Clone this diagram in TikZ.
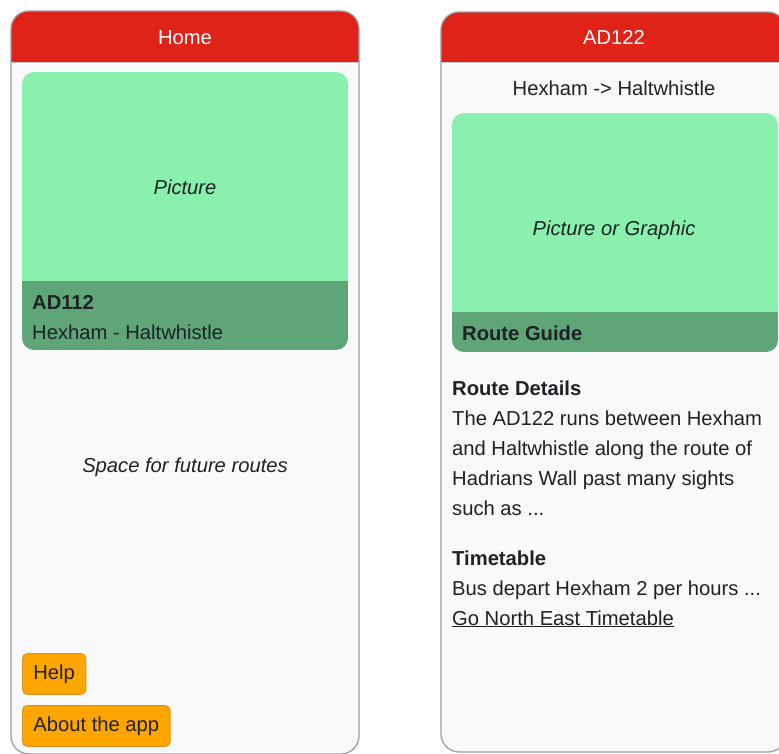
\documentclass[tikz,border=0pt]{standalone}
\usepackage{fontspec}
\setmainfont{Liberation Sans}
\usepackage{xcolor}
\usepackage{tikz}
\usetikzlibrary{positioning,calc}

\definecolor{headred}{HTML}{DF2318}
\definecolor{screenbg}{HTML}{F8F9FA}
\definecolor{framegray}{HTML}{9C9EA5}
\definecolor{piclight}{HTML}{8AF0AD}
\definecolor{picdark}{HTML}{5FA577}
\definecolor{btnorange}{HTML}{FFA500}
\definecolor{btnedge}{HTML}{D98E1A}
\definecolor{inktext}{HTML}{1E2125}

\tikzset{
  txt/.style={anchor=base west, inner sep=0pt, text=inktext},
  ctxt/.style={anchor=base, inner sep=0pt, text=inktext},
  htxt/.style={anchor=base, inner sep=0pt, text=white},
  btn/.style={draw=btnedge, fill=btnorange, rounded corners=5pt, line width=0.8pt,
    anchor=west, minimum height=41pt, inner xsep=11pt, text=inktext},
}

\begin{document}
\begin{tikzpicture}[x=1pt,y=-1pt,font=\fontsize{20.2}{24}\selectfont]
        \useasboundingbox (0,0) rectangle (779,754);
        \clip (0,0) rectangle (779,754);

        % Left screen (Home)
        \fill[screenbg, rounded corners=18pt] (11,11) rectangle (359,754);
        \begin{scope}
          \clip[rounded corners=18pt] (11,11) rectangle (359,754);
          \fill[headred] (11,11) rectangle (359,62);
        \end{scope}
        \draw[framegray!60, line width=0.6pt] (11,62) -- (359,62);
        \draw[framegray, line width=1.3pt, rounded corners=18pt] (11,11) rectangle (359,754);
        \node[htxt] (home) at (185,45) {Home};

        % Route card
        \begin{scope}
          \clip[rounded corners=12pt] (22,72) rectangle (348,350);
          \fill[piclight] (22,72) rectangle (348,281);
          \fill[picdark] (22,281) rectangle (348,350);
        \end{scope}
        \node[ctxt] (picture) at (185,195) {\itshape Picture};
        \node[txt] (code) at (32,309) {\bfseries AD112};
        \node[txt] (route) at (32,339) {Hexham - Haltwhistle};

        \node[ctxt] (future) at (185,472) {\itshape Space for future routes};

        % Buttons
        \node[btn] (help) at (22,674) {Help};
        \node[btn] (about) at (22,726) {About the app};

        % Right screen (AD122)
        \fill[screenbg, rounded corners=18pt] (441,12) rectangle (786,752);
        \begin{scope}
          \clip[rounded corners=18pt] (441,12) rectangle (786,752);
          \fill[headred] (441,12) rectangle (786,62);
        \end{scope}
        \draw[framegray!60, line width=0.6pt] (441,62) -- (786,62);
        \draw[framegray, line width=1.3pt, rounded corners=18pt] (441,12) rectangle (786,752);
        \node[htxt] (title) at (614,45) {AD122};
        \node[ctxt] (journey) at (614,96) {Hexham -> Haltwhistle};

        % Guide card
        \begin{scope}
          \clip[rounded corners=12pt] (452,113) rectangle (778,352);
          \fill[piclight] (452,113) rectangle (778,312);
          \fill[picdark] (452,312) rectangle (778,352);
        \end{scope}
        \node[ctxt] (graphic) at (614,236) {\itshape Picture or Graphic};
        \node[txt] (guide) at (462,340) {\bfseries Route Guide};

        % Details
        \node[txt] (details) at (452,395) {\bfseries Route Details};
        \node[txt] (line1) at (452,425) {The AD122 runs between Hexham};
        \node[txt] (line2) at (452,455) {and Haltwhistle along the route of};
        \node[txt] (line3) at (452,485) {Hadrians Wall past many sights};
        \node[txt] (line4) at (452,515) {such as ...};

        % Timetable
        \node[txt] (times) at (452,565) {\bfseries Timetable};
        \node[txt] (buses) at (452,595) {Bus depart Hexham 2 per hours ...};
        \node[txt] (link) at (452,625) {\underline{Go North East Timetable}};

      \end{tikzpicture}
\end{document}
